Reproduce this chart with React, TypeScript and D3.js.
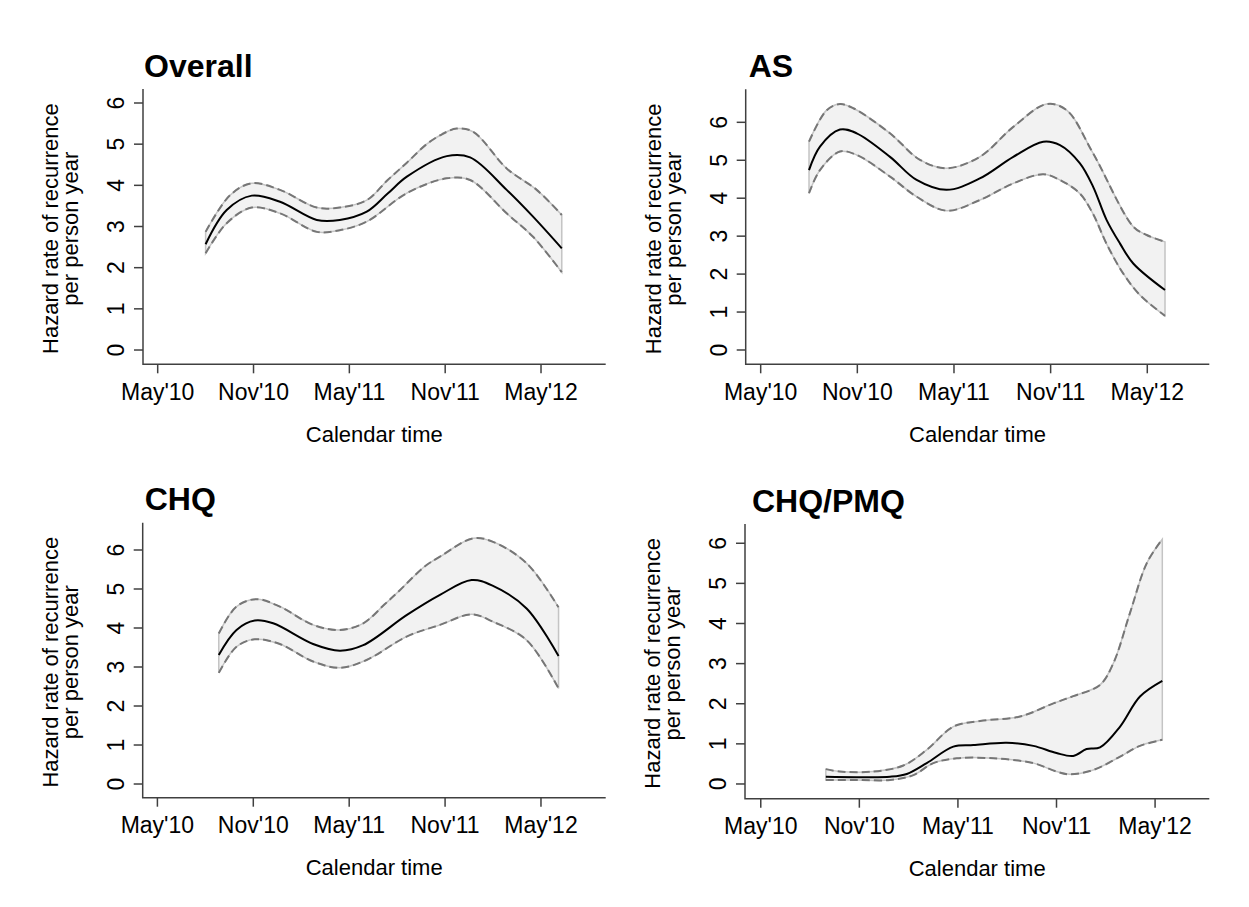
import React, { useEffect, useRef } from "react";
import * as d3 from "d3";

// months since May 2010, hazard rate per person year
const overallMean = [[3.0, 2.57], [4.32, 3.4], [5.89, 3.75], [7.66, 3.6], [9.96, 3.16], [11.4, 3.16], [13.09, 3.36], [14.4, 3.8], [15.6, 4.21], [18.1, 4.71], [19.56, 4.68], [21.85, 3.89], [23.5, 3.24], [25.3, 2.47]];
const overallUpper = [[3.0, 2.87], [4.53, 3.76], [5.89, 4.05], [7.66, 3.89], [9.96, 3.46], [11.4, 3.46], [13.09, 3.64], [14.4, 4.13], [15.6, 4.55], [16.84, 5.0], [17.8, 5.24], [18.72, 5.38], [19.76, 5.3], [21.85, 4.41], [23.73, 3.89], [25.3, 3.28]];
const overallLower = [[3.0, 2.35], [4.32, 3.08], [5.89, 3.46], [7.66, 3.32], [9.96, 2.87], [11.4, 2.91], [13.09, 3.12], [15.6, 3.81], [18.1, 4.17], [19.56, 4.13], [21.85, 3.32], [23.5, 2.75], [25.3, 1.89]];

const asMean = [[3.0, 4.74], [3.68, 5.36], [4.92, 5.81], [5.96, 5.71], [8.03, 5.09], [9.68, 4.48], [11.54, 4.22], [13.6, 4.52], [15.68, 5.09], [17.54, 5.49], [18.58, 5.4], [19.82, 4.92], [20.64, 4.3], [21.47, 3.43], [22.3, 2.81], [23.13, 2.28], [25.1, 1.58]];
const asUpper = [[3.0, 5.49], [4.1, 6.32], [4.92, 6.48], [5.75, 6.37], [8.03, 5.71], [9.89, 5.01], [11.54, 4.79], [13.6, 5.09], [15.68, 5.88], [17.75, 6.48], [18.99, 6.32], [20.64, 5.18], [23.13, 3.25], [23.96, 3.03], [25.1, 2.85]];
const asLower = [[3.0, 4.13], [3.68, 4.74], [4.92, 5.23], [5.96, 5.14], [8.03, 4.57], [9.68, 4.04], [11.54, 3.67], [13.6, 3.95], [15.68, 4.39], [17.54, 4.63], [18.58, 4.48], [19.82, 4.12], [20.64, 3.58], [21.47, 2.8], [22.5, 2.02], [23.54, 1.45], [25.1, 0.9]];

const chqMean = [[3.84, 3.31], [4.95, 3.95], [6.09, 4.19], [7.24, 4.12], [9.74, 3.59], [11.42, 3.42], [12.88, 3.56], [15.59, 4.33], [17.68, 4.85], [19.66, 5.23], [21.0, 5.08], [23.1, 4.5], [25.1, 3.28]];
const chqUpper = [[3.84, 3.86], [4.95, 4.55], [6.2, 4.74], [7.66, 4.55], [9.74, 4.08], [11.42, 3.95], [12.88, 4.12], [14.2, 4.6], [15.17, 4.97], [16.7, 5.57], [17.68, 5.83], [19.76, 6.3], [21.0, 6.21], [23.1, 5.66], [25.1, 4.53]];
const chqLower = [[3.84, 2.85], [4.95, 3.52], [6.09, 3.71], [7.66, 3.59], [9.74, 3.14], [11.42, 2.98], [13.09, 3.18], [15.59, 3.78], [17.68, 4.08], [19.66, 4.35], [21.0, 4.16], [23.1, 3.69], [25.1, 2.45]];

const pmqMean = [[3.96, 0.18], [5.84, 0.17], [7.87, 0.18], [8.89, 0.25], [10.1, 0.52], [11.72, 0.93], [12.94, 0.97], [14.97, 1.03], [16.59, 0.95], [18.0, 0.77], [19.02, 0.7], [19.83, 0.87], [20.65, 0.91], [21.87, 1.43], [23.08, 2.18], [24.44, 2.57]];
const pmqUpper = [[3.96, 0.37], [4.8, 0.31], [6.85, 0.31], [8.68, 0.46], [10.1, 0.85], [11.72, 1.43], [13.35, 1.57], [15.78, 1.68], [17.81, 2.01], [19.02, 2.19], [20.65, 2.47], [21.46, 3.01], [22.47, 4.26], [23.49, 5.5], [24.44, 6.1]];
const pmqLower = [[3.96, 0.1], [5.84, 0.1], [7.87, 0.1], [9.29, 0.22], [10.5, 0.52], [11.93, 0.64], [14.16, 0.64], [16.59, 0.52], [18.0, 0.31], [18.82, 0.24], [20.24, 0.35], [21.87, 0.68], [23.08, 0.95], [24.44, 1.1]];

const xTickMonths = [0, 6, 12, 18, 24];
const xTickLabels = ["May'10", "Nov'10", "May'11", "Nov'11", "May'12"];
const yTicks = [0, 1, 2, 3, 4, 5, 6];
const titles = ["Overall", "AS", "CHQ", "CHQ/PMQ"];

const panels = [
  { title: titles[0], mean: overallMean, upper: overallUpper, lower: overallLower, left: 143, right: 605.7, top: 89, bottom: 364.3, xDomain: [-0.92, 28.05], yDomain: [-0.347, 6.34], titleDx: 1 },
  { title: titles[1], mean: asMean, upper: asUpper, lower: asLower, left: 745.7, right: 1209.3, top: 89.3, bottom: 364.3, xDomain: [-0.93, 27.85], yDomain: [-0.377, 6.87], titleDx: 3 },
  { title: titles[2], mean: chqMean, upper: chqUpper, lower: chqLower, left: 142.7, right: 605.7, top: 522.7, bottom: 797.7, xDomain: [-0.92, 28.05], yDomain: [-0.351, 6.7], titleDx: 2 },
  { title: titles[3], mean: pmqMean, upper: pmqUpper, lower: pmqLower, left: 745, right: 1209.3, top: 524, bottom: 798.7, xDomain: [-0.96, 27.3], yDomain: [-0.367, 6.48], titleDx: 7 },
];

const FONT = "'Liberation Sans', Arial, Helvetica, sans-serif";

const App = () => {
  const svgRef = useRef<SVGSVGElement>(null);

  useEffect(() => {
    const svg = d3.select(svgRef.current);
    svg.selectAll("*").remove();

    panels.forEach((p) => {
      const x = d3.scaleLinear().domain(p.xDomain).range([p.left, p.right]);
      const y = d3.scaleLinear().domain(p.yDomain).range([p.bottom, p.top]);
      const g = svg.append("g");

      const line = d3
        .line<number[]>()
        .x((d) => x(d[0]))
        .y((d) => y(d[1]))
        .curve(d3.curveCatmullRom.alpha(0.5));

      // confidence band: upper forward, lower backward
      const up = line(p.upper) as string;
      const lo = line(p.lower.slice().reverse()) as string;
      g.append("path")
        .attr("d", up + "L" + lo.substring(1) + "Z")
        .attr("fill", "#f2f2f2")
        .attr("stroke", "#c4c4c4")
        .attr("stroke-width", 1.5);

      [p.upper, p.lower].forEach((b) => {
        g.append("path")
          .attr("d", line(b))
          .attr("fill", "none")
          .attr("stroke", "#767676")
          .attr("stroke-width", 2)
          .attr("stroke-dasharray", "8,4");
      });

      g.append("path")
        .attr("d", line(p.mean))
        .attr("fill", "none")
        .attr("stroke", "#000")
        .attr("stroke-width", 2);

      // axes (L shape)
      g.append("path")
        .attr("d", `M${p.left},${p.top}V${p.bottom}H${p.right}`)
        .attr("fill", "none")
        .attr("stroke", "#404040")
        .attr("stroke-width", 1.5);

      yTicks.forEach((t) => {
        g.append("line")
          .attr("x1", p.left - 9).attr("x2", p.left)
          .attr("y1", y(t)).attr("y2", y(t))
          .attr("stroke", "#404040").attr("stroke-width", 1.5);
        g.append("text")
          .attr("transform", `translate(${p.left - 19},${y(t)}) rotate(-90)`)
          .attr("text-anchor", "middle")
          .style("font-size", "23px")
          .attr("font-family", FONT)
          .text(t);
      });

      xTickMonths.forEach((m, i) => {
        g.append("line")
          .attr("x1", x(m)).attr("x2", x(m))
          .attr("y1", p.bottom).attr("y2", p.bottom + 9)
          .attr("stroke", "#404040").attr("stroke-width", 1.5);
        g.append("text")
          .attr("x", x(m))
          .attr("y", p.bottom + 35.5)
          .attr("text-anchor", "middle")
          .style("font-size", "23px")
          .attr("font-family", FONT)
          .text(xTickLabels[i]);
      });

      g.append("text")
        .attr("x", (p.left + p.right) / 2)
        .attr("y", p.bottom + 77.5)
        .attr("text-anchor", "middle")
        .style("font-size", "22px")
        .attr("font-family", FONT)
        .text("Calendar time");

      const yMid = (p.top + p.bottom) / 2 + 2;
      g.append("text")
        .attr("transform", `translate(${p.left - 85},${yMid}) rotate(-90)`)
        .attr("text-anchor", "middle")
        .style("font-size", "22px")
        .attr("font-family", FONT)
        .text("Hazard rate of recurrence");
      g.append("text")
        .attr("transform", `translate(${p.left - 65},${yMid}) rotate(-90)`)
        .attr("text-anchor", "middle")
        .style("font-size", "22px")
        .attr("font-family", FONT)
        .text("per person year");

      g.append("text")
        .attr("x", p.left + p.titleDx)
        .attr("y", p.top - 12.5)
        .style("font-size", "32px")
        .style("font-weight", "bold")
        .attr("font-family", FONT)
        .text(p.title);
    });
  }, []);

  return (
    <svg
      ref={svgRef}
      width={1249}
      height={907}
      style={{ position: "absolute", left: 0, top: 0, background: "#fff" }}
    />
  );
};

export default App;
